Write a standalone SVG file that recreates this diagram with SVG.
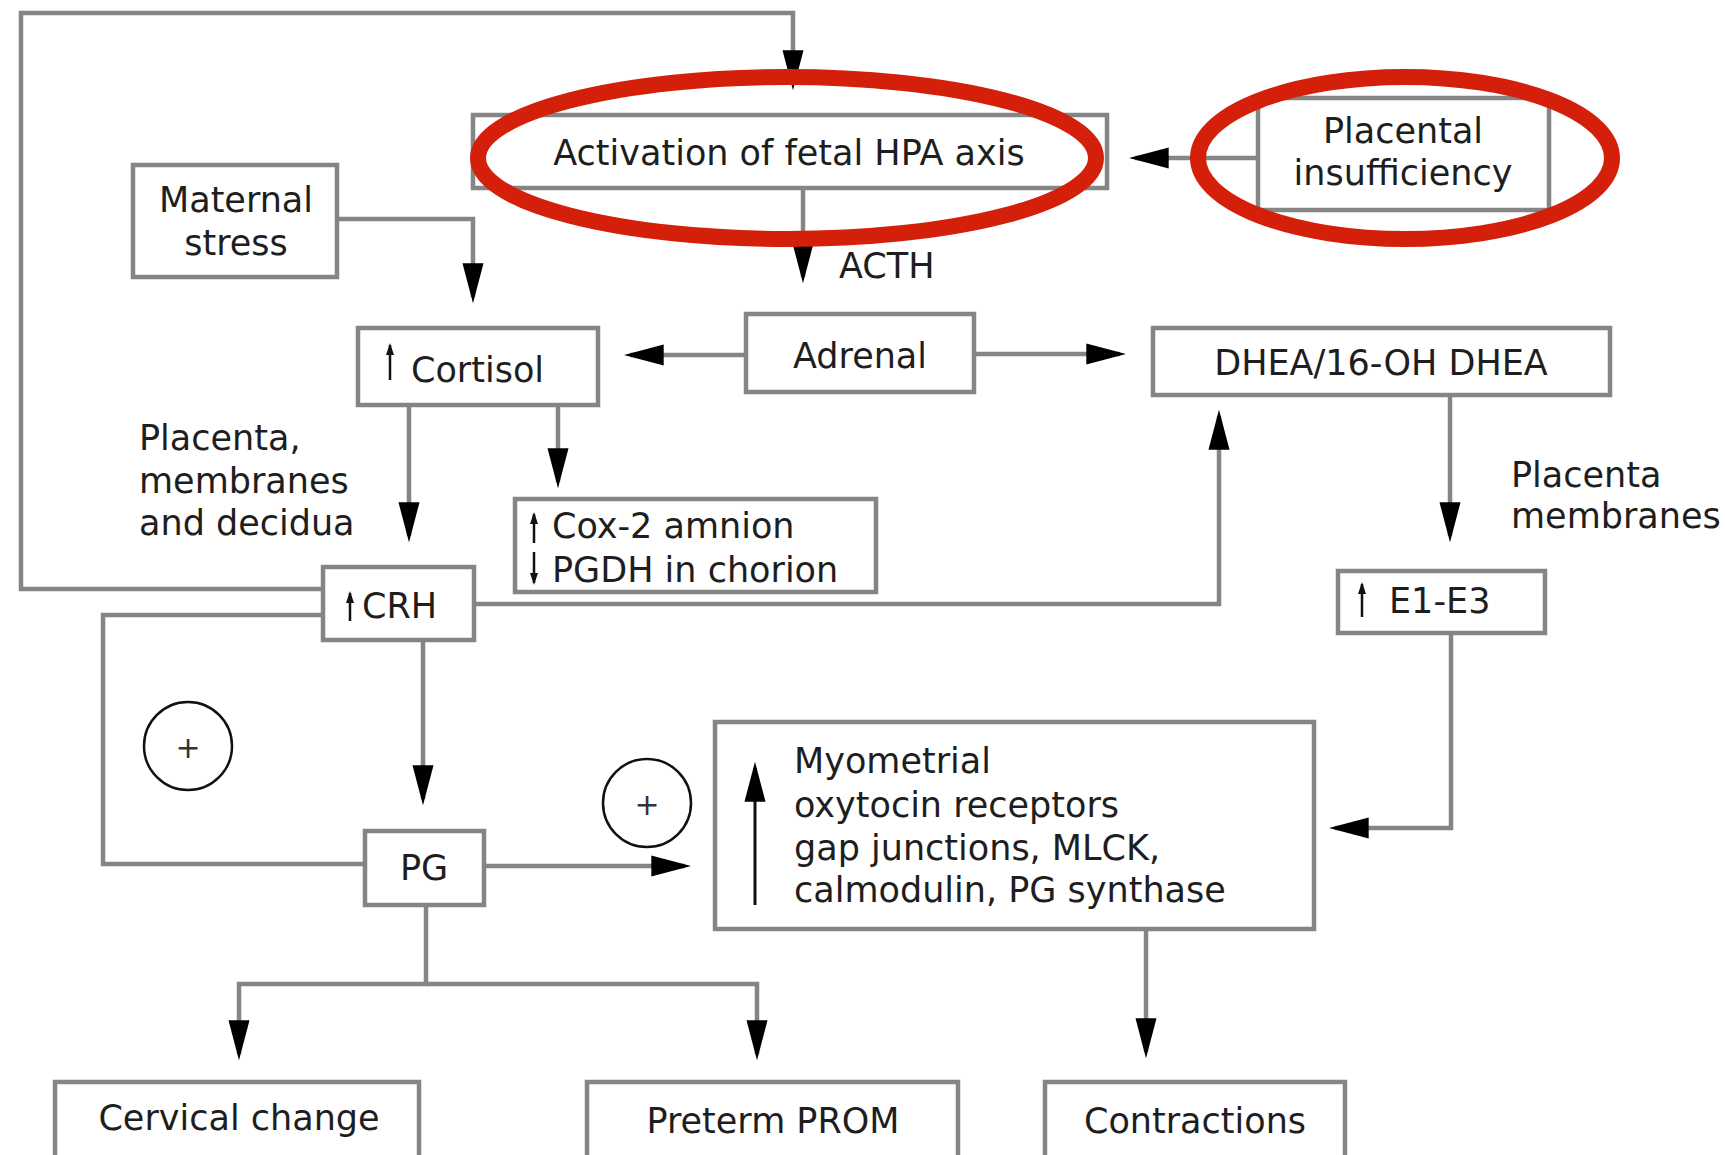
<svg xmlns="http://www.w3.org/2000/svg" width="1725" height="1155" viewBox="0 0 1725 1155">
<defs>
<marker id="ah" markerUnits="userSpaceOnUse" markerWidth="40" markerHeight="22" viewBox="0 0 38 20" refX="32" refY="10" orient="auto">
<path d="M0,0 L38,10 L0,20 z" fill="#000"/>
</marker>
<marker id="sah" markerUnits="userSpaceOnUse" markerWidth="12" markerHeight="8" viewBox="0 0 12 8" refX="10" refY="4" orient="auto">
<path d="M0,0 L12,4 L0,8 z" fill="#111"/>
</marker>
</defs>
<style>
.box{fill:#fff;stroke:#858585;stroke-width:4.5}
.ln{fill:none;stroke:#858585;stroke-width:4.5}
.arr{marker-end:url(#ah)}
.t{font-family:"DejaVu Sans",Verdana,sans-serif;font-size:35px;fill:#1e1e1e}
.c{text-anchor:middle}
.sm{fill:none;stroke:#111;stroke-width:2.5;marker-end:url(#sah)}
.circ{fill:none;stroke:#111;stroke-width:2.5}
.plus{font-family:"DejaVu Sans",sans-serif;font-size:30px;fill:#333;text-anchor:middle}
.red{fill:none;stroke:#d4200a;stroke-width:16}
</style>
<rect width="1725" height="1155" fill="#fff"/>

<g id="connectors">
<path class="ln arr" d="M323,589 H21 V13 H793 V84"/>
<path class="ln arr" d="M803,188 V277"/>
<path class="ln arr" d="M1258,158 H1135"/>
<path class="ln arr" d="M337,219 H473 V297"/>
<path class="ln arr" d="M746,355 H630"/>
<path class="ln arr" d="M974,354 H1120"/>
<path class="ln arr" d="M1450,395 V536"/>
<path class="ln arr" d="M409,405 V536"/>
<path class="ln arr" d="M558,405 V482"/>
<path class="ln arr" d="M474,604 H1219 V416"/>
<path class="ln arr" d="M423,640 V799"/>
<path class="ln" d="M365,864 H103 V615 H323"/>
<path class="ln arr" d="M484,866 H685"/>
<path class="ln arr" d="M426,905 V984 H239 V1054"/>
<path class="ln arr" d="M426,984 H757 V1054"/>
<path class="ln arr" d="M1451,633 V828 H1335"/>
<path class="ln arr" d="M1146,929 V1052"/>
</g>

<g id="activation">
<rect class="box" x="473" y="115" width="634" height="73"/>
<text class="t c" x="789" y="165">Activation of fetal HPA axis</text>
</g>
<g id="placental">
<rect class="box" x="1258" y="98" width="291" height="112"/>
<text class="t c" x="1403" y="143">Placental</text>
<text class="t c" x="1403" y="185">insufficiency</text>
</g>
<g id="maternal">
<rect class="box" x="133" y="165" width="204" height="112"/>
<text class="t c" x="236" y="212">Maternal</text>
<text class="t c" x="236" y="255">stress</text>
</g>
<g id="acth-label">
<text class="t" x="839" y="278">ACTH</text>
</g>
<g id="cortisol">
<rect class="box" x="358" y="328" width="240" height="77"/>
<path class="sm" d="M390,380 V345"/>
<text class="t" x="411" y="382">Cortisol</text>
</g>
<g id="adrenal">
<rect class="box" x="746" y="314" width="228" height="78"/>
<text class="t c" x="860" y="368">Adrenal</text>
</g>
<g id="dhea">
<rect class="box" x="1153" y="328" width="457" height="67"/>
<text class="t c" x="1381" y="375">DHEA/16-OH DHEA</text>
</g>
<g id="placenta-label">
<text class="t" x="139" y="450">Placenta,</text>
<text class="t" x="139" y="493">membranes</text>
<text class="t" x="139" y="535">and decidua</text>
</g>
<g id="cox">
<rect class="box" x="515" y="499" width="361" height="93"/>
<path class="sm" d="M534,543 V514"/>
<path class="sm" d="M534,552 V583"/>
<text class="t" x="552" y="538">Cox-2 amnion</text>
<text class="t" x="552" y="582">PGDH in chorion</text>
</g>
<g id="placenta-membranes-label">
<text class="t" x="1511" y="487">Placenta</text>
<text class="t" x="1511" y="528">membranes</text>
</g>
<g id="crh">
<rect class="box" x="323" y="567" width="151" height="73"/>
<path class="sm" d="M350,621 V593"/>
<text class="t" x="362" y="618">CRH</text>
</g>
<g id="e1e3">
<rect class="box" x="1338" y="571" width="207" height="62"/>
<path class="sm" d="M1362,617 V584"/>
<text class="t" x="1389" y="613">E1-E3</text>
</g>
<g id="plus1">
<circle class="circ" cx="188" cy="746" r="44"/>
<text class="plus" x="188" y="758">+</text>
</g>
<g id="plus2">
<circle class="circ" cx="647" cy="803" r="44"/>
<text class="plus" x="647" y="815">+</text>
</g>
<g id="myometrial">
<rect class="box" x="715" y="722" width="599" height="207"/>
<line x1="755" y1="905" x2="755" y2="768" stroke="#111" stroke-width="3" marker-end="url(#ah)"/>
<text class="t" x="794" y="773">Myometrial</text>
<text class="t" x="794" y="817">oxytocin receptors</text>
<text class="t" x="794" y="860">gap junctions, MLCK,</text>
<text class="t" x="794" y="902">calmodulin, PG synthase</text>
</g>
<g id="pg">
<rect class="box" x="365" y="831" width="119" height="74"/>
<text class="t c" x="424" y="880">PG</text>
</g>
<g id="cervical">
<rect class="box" x="55" y="1082" width="364" height="90"/>
<text class="t c" x="239" y="1130">Cervical change</text>
</g>
<g id="prom">
<rect class="box" x="587" y="1082" width="371" height="90"/>
<text class="t c" x="773" y="1133">Preterm PROM</text>
</g>
<g id="contractions">
<rect class="box" x="1045" y="1082" width="300" height="90"/>
<text class="t c" x="1195" y="1133">Contractions</text>
</g>
<g id="highlights">
<ellipse class="red" cx="787" cy="158" rx="309" ry="81"/>
<ellipse class="red" cx="1405" cy="158" rx="207" ry="81"/>
</g>
</svg>
